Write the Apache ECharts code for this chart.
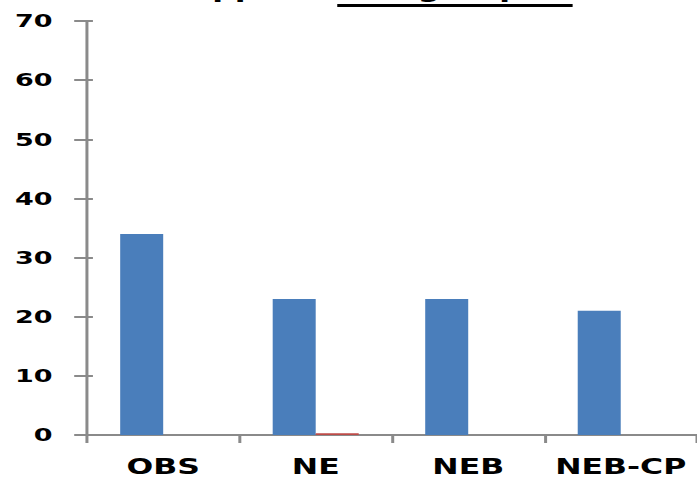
<!DOCTYPE html>
<html>
<head>
<meta charset="utf-8">
<script src="https://cdn.jsdelivr.net/npm/echarts@6/dist/echarts.min.js"></script>
<style>
  html, body { margin: 0; padding: 0; background: #ffffff; overflow: hidden; }
  #chart {
    width: 465px;
    height: 479px;
    transform: scaleX(1.4989);
    transform-origin: 0 0;
  }
</style>
</head>
<body>
<div id="chart"></div>
<script>
// Categories and values
var categories = ['OBS', 'NE', 'NEB', 'NEB-CP'];
var seriesBlue = [34, 23, 23, 21];
var seriesRed = [0, 0.3, 0, 0];
var yTicks = { min: 0, max: 70, interval: 10 };

var titleLead = 'apports';
var titleUnderlined = 'énergétiques';

var FONT = '"DejaVu Sans", Verdana, sans-serif';
var AXIS_GRAY = '#8a8a8a';
var TITLE_SIZE = 21;

// width of the underlined word, to size its underline
function textWidth(str, size) {
  var ctx = document.createElement('canvas').getContext('2d');
  ctx.font = 'bold ' + size + 'px ' + FONT;
  return ctx.measureText(str).width;
}

var chart = echarts.init(document.getElementById('chart'), null, { renderer: 'svg' });

var underlineX = 225;
var underlineW = textWidth(titleUnderlined, TITLE_SIZE);

chart.setOption({
  animation: false,
  backgroundColor: '#ffffff',
  grid: { left: 58, right: 0, top: 21, bottom: 44, containLabel: false },
  xAxis: {
    type: 'category',
    data: categories,
    axisLine: { lineStyle: { color: AXIS_GRAY, width: 2 } },
    axisTick: { show: true, length: 8, lineStyle: { color: AXIS_GRAY, width: 2 } },
    axisLabel: {
      interval: 0,
      margin: 21,
      lineHeight: 21,
      color: '#000000',
      fontFamily: FONT,
      fontWeight: 'bold',
      fontSize: 21
    }
  },
  yAxis: [
    {
      type: 'value',
      min: yTicks.min,
      max: yTicks.max,
      interval: yTicks.interval,
      splitLine: { show: false },
      axisLine: { show: true, lineStyle: { color: AXIS_GRAY, width: 2 } },
      axisTick: { show: true, length: 8.5, lineStyle: { color: AXIS_GRAY, width: 2 } },
      axisLabel: {
        margin: 23,
        color: '#000000',
        fontFamily: FONT,
        fontWeight: 'bold',
        fontSize: 18
      }
    },
    {
      // inner half of the crossing tick marks
      type: 'value',
      position: 'left',
      min: yTicks.min,
      max: yTicks.max,
      interval: yTicks.interval,
      splitLine: { show: false },
      axisLine: { show: false },
      axisTick: { show: true, inside: true, length: 4, lineStyle: { color: AXIS_GRAY, width: 2 } },
      axisLabel: { show: false }
    }
  ],
  series: [
    {
      type: 'bar',
      data: seriesBlue,
      barGap: '0%',
      barCategoryGap: '43.6%',
      itemStyle: { color: '#4a7ebb' }
    },
    {
      type: 'bar',
      data: seriesRed,
      barGap: '0%',
      barCategoryGap: '43.6%',
      itemStyle: { color: '#be4b48' }
    }
  ],
  graphic: [
    {
      type: 'text',
      x: underlineX - 6,
      y: 1,
      style: {
        text: titleLead,
        align: 'right',
        verticalAlign: 'bottom',
        font: 'bold ' + TITLE_SIZE + 'px ' + FONT,
        fill: '#000000'
      }
    },
    {
      type: 'text',
      x: underlineX,
      y: 1,
      style: {
        text: titleUnderlined,
        align: 'left',
        verticalAlign: 'bottom',
        font: 'bold ' + TITLE_SIZE + 'px ' + FONT,
        fill: '#000000'
      }
    },
    {
      type: 'rect',
      shape: { x: underlineX, y: 4, width: underlineW, height: 3 },
      style: { fill: '#000000' }
    }
  ]
});
</script>
</body>
</html>
